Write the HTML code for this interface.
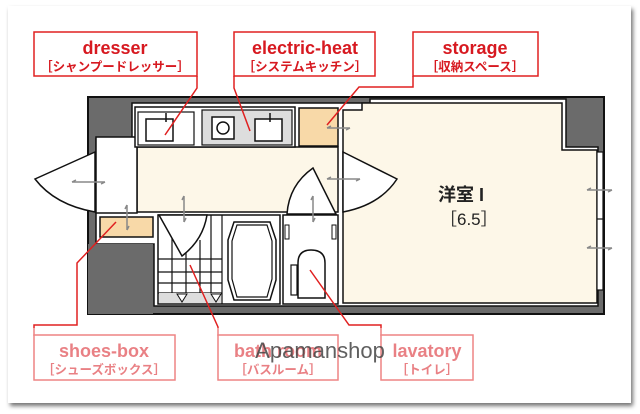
<!DOCTYPE html>
<html><head><meta charset="utf-8"><style>
html,body{margin:0;padding:0;background:#fff;}
svg{display:block;}
</style></head><body>
<svg width="640" height="414" viewBox="0 0 640 414" xmlns="http://www.w3.org/2000/svg">
<defs><filter id="sh" x="-5%" y="-5%" width="110%" height="110%"><feDropShadow dx="2" dy="3" stdDeviation="2" flood-color="#000" flood-opacity="0.55"/></filter></defs>
<rect x="0" y="0" width="640" height="414" fill="#fff"/>
<rect x="8" y="6" width="623" height="397" fill="#fff" filter="url(#sh)"/>

<rect x="88" y="97" width="516" height="217" fill="#6b6b6b" stroke="#111" stroke-width="2"/>
<path d="M132,103 H370 V99 H566 V147 H598 V306 H154 V244 H96 V139 H132 Z" fill="#fff" stroke="#111" stroke-width="1.5"/>
<path d="M343,110 H362 V103 H562 V150 H597 V303 H343 Z" fill="#fdf7e8" stroke="#111" stroke-width="1.5"/>
<rect x="597" y="152" width="6" height="138" fill="#fff" stroke="#111" stroke-width="1.2"/>
<line x1="597" y1="219" x2="603" y2="219" stroke="#111" stroke-width="1.2"/>
<rect x="137" y="147" width="201" height="65" fill="#fdf7e8" stroke="#111" stroke-width="1.5"/>
<rect x="96" y="137" width="41" height="76" fill="#fff" stroke="#111" stroke-width="1.5"/>
<rect x="135" y="107" width="160" height="40" fill="#fff" stroke="#111" stroke-width="1.5"/>
<rect x="138" y="112" width="56" height="33" fill="#fff" stroke="#111" stroke-width="1.2"/>
<rect x="146" y="119" width="27" height="22" fill="#fff" stroke="#111" stroke-width="1.5"/>
<rect x="202" y="110" width="90" height="35" fill="#ddd" stroke="#111" stroke-width="1.2"/>
<rect x="212" y="117" width="22" height="22" fill="#fff" stroke="#111" stroke-width="1.5"/>
<circle cx="223" cy="128" r="6" fill="#fff" stroke="#111" stroke-width="1.5"/>
<rect x="255" y="119" width="27" height="22" fill="#fff" stroke="#111" stroke-width="1.5"/>
<line x1="270" y1="113" x2="270" y2="122" stroke="#111" stroke-width="1.5"/>
<line x1="166" y1="113" x2="166" y2="122" stroke="#111" stroke-width="1.5"/>
<rect x="299" y="108" width="39" height="38" fill="#f8d9a8" stroke="#111" stroke-width="1.5"/>
<rect x="100" y="217" width="53" height="20" fill="#f8d9a8" stroke="#111" stroke-width="1.5"/>
<rect x="88" y="244" width="65" height="70" fill="#6b6b6b"/>
<rect x="158" y="215" width="122" height="89" fill="#fff" stroke="#111" stroke-width="1.5"/>
<g stroke="#111" stroke-width="1.2">
<line x1="172" y1="215" x2="172" y2="293"/><line x1="186" y1="240" x2="186" y2="293"/>
<line x1="200" y1="240" x2="200" y2="293"/><line x1="211" y1="215" x2="211" y2="293"/>
<line x1="222" y1="215" x2="222" y2="304"/>
<line x1="158" y1="259" x2="222" y2="259"/><line x1="158" y1="272" x2="222" y2="272"/>
<line x1="158" y1="283" x2="222" y2="283"/><line x1="158" y1="293" x2="222" y2="293"/>
</g>
<rect x="159" y="293" width="62" height="10" fill="#ddd"/>
<path d="M177,294 L187,294 L182,302 Z M211,294 L221,294 L216,302 Z" fill="#fff" stroke="#111" stroke-width="1"/>
<path d="M234,222 H270 L276,240 V280 L270,300 H234 L228,280 V240 Z" fill="#fff" stroke="#111" stroke-width="1.5"/>
<path d="M237,225 H267 L272,241 V279 L267,297 H237 L232,279 V241 Z" fill="none" stroke="#111" stroke-width="1.2"/>
<path d="M159,215 L182,256 Q203,240 207,215 Z" fill="#fff" stroke="#111" stroke-width="1.5"/>
<rect x="283" y="215" width="55" height="89" fill="#fff" stroke="#111" stroke-width="1.5"/>
<rect x="285" y="225" width="4" height="14" fill="#fff" stroke="#111"/>
<rect x="332" y="225" width="4" height="14" fill="#fff" stroke="#111"/>
<path d="M298,298 V263 Q298,250 311,250 Q325,250 325,263 V298 Z" fill="#fff" stroke="#111" stroke-width="1.5"/>
<rect x="291" y="265" width="6" height="30" fill="#fff" stroke="#111" stroke-width="1.2"/>
<path d="M287,214 Q289,185 313,168 L336,214 Z" fill="#fff" stroke="#111" stroke-width="1.5"/>
<path d="M95,152 L35,179 Q55,205 95,212 Z" fill="#fff" stroke="#111" stroke-width="1.5"/>
<path d="M343,152 L397,179 Q380,205 343,212 Z" fill="#fff" stroke="#111" stroke-width="1.5"/>
<g stroke="#888" stroke-width="1.5" fill="none">
<path d="M72,182 H105 M72,182 l4,-2 M105,182 l-4,2"/>
<path d="M127,205 V230 M127,205 l-2,4 M127,230 l2,-4"/>
<path d="M184,196 V222 M184,196 l-2,4 M184,222 l2,-4"/>
<path d="M313,196 V222 M313,196 l-2,4 M313,222 l2,-4"/>
<path d="M327,179 H360 M327,179 l4,-2 M360,179 l-4,2"/>
<path d="M327,128 H350 M327,128 l4,-2 M350,128 l-4,2"/>
<path d="M587,190 H612 M587,190 l4,-2 M612,190 l-4,2"/>
<path d="M587,248 H612 M587,248 l4,-2 M612,248 l-4,2"/>
</g>
<text x="438" y="201" font-family="'Liberation Sans','Noto Sans CJK JP',sans-serif" font-size="18" font-weight="bold" fill="#222">洋室 I</text>
<text x="440" y="225" font-family="'Liberation Sans','Noto Sans CJK JP',sans-serif" font-size="17" fill="#222">［6.5］</text>
<g stroke="#e02020" stroke-width="1.5" fill="none">
<path d="M197,76 V88 L165,135"/>
<path d="M234,76 V88 L250,131"/>
<path d="M413,76 V87 H359 L327,125"/>
<path d="M34,336 V325 H77 V263 L116,222"/>
<path d="M218,336 V327 L190,265"/>
<path d="M381,336 V325 H349 L310,270"/>
</g>
<g fill="#fff" stroke="#e02020" stroke-width="1.5">
<rect x="34" y="32" width="163" height="44"/>
<rect x="234" y="32" width="141" height="44"/>
<rect x="413" y="32" width="125" height="44"/>
<rect x="34" y="335" width="141" height="45"/>
<rect x="218" y="335" width="120" height="45"/>
<rect x="381" y="335" width="92" height="45"/>
</g>
<g font-family="'Liberation Sans','Noto Sans CJK JP',sans-serif" fill="#d71920" text-anchor="middle">
<text x="115" y="54" font-size="18" font-weight="bold">dresser</text>
<text x="115" y="71" font-size="12.5" font-weight="bold">［シャンプードレッサー］</text>
<text x="305" y="54" font-size="18" font-weight="bold">electric-heat</text>
<text x="305" y="71" font-size="12.5" font-weight="bold">［システムキッチン］</text>
<text x="475" y="54" font-size="18" font-weight="bold">storage</text>
<text x="475" y="71" font-size="12.5" font-weight="bold">［収納スペース］</text>
<text x="104" y="357" font-size="18" font-weight="bold">shoes-box</text>
<text x="104" y="374" font-size="12.5" font-weight="bold">［シューズボックス］</text>
<text x="278" y="357" font-size="18" font-weight="bold">bath room</text>
<text x="278" y="374" font-size="12.5" font-weight="bold">［バスルーム］</text>
<text x="427" y="357" font-size="18" font-weight="bold">lavatory</text>
<text x="427" y="374" font-size="12.5" font-weight="bold">［トイレ］</text>
</g>
<rect x="9" y="328" width="621" height="74" fill="#fff" fill-opacity="0.45"/>
<text x="320" y="358" text-anchor="middle" font-family="'Liberation Sans',sans-serif" font-size="22" fill="#444" fill-opacity="0.85">Apamanshop</text>
</svg>
</body></html>
